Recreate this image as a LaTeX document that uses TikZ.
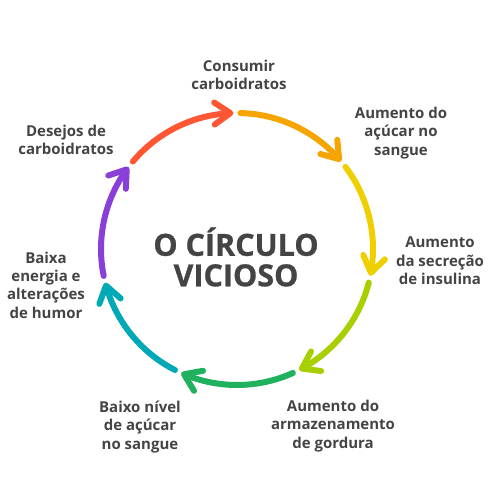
\documentclass[tikz,border=0pt]{standalone}
\usepackage{fontspec}
\setmainfont{Open Sans}
\newfontfamily\xbold{Open Sans}[BoldFeatures={FakeBold=0.8}]
\usetikzlibrary{arrows.meta,bending,calc}
\definecolor{txt}{HTML}{444444}
\definecolor{cred}{HTML}{FF5733}
\definecolor{corange}{HTML}{F6A500}
\definecolor{cyellow}{HTML}{EFCF00}
\definecolor{cyg}{HTML}{A8CF00}
\definecolor{cgreen}{HTML}{20B15F}
\definecolor{cteal}{HTML}{00A9B5}
\definecolor{cpurple}{HTML}{8A3FD8}
\begin{document}
\begin{tikzpicture}[x=1pt,y=1pt,
  lbl/.style={text=txt,font=\fontsize{15}{18.3}\selectfont\bfseries,align=center,inner sep=0pt},
  ttl/.style={text=txt,font=\fontsize{30.5}{30.5}\selectfont\xbold\bfseries,align=center,inner sep=0pt},
  cyc/.style={line width=6pt,line cap=round,-{Straight Barb[length=16pt,width=22pt,round]}}]
\useasboundingbox (0,0) rectangle (500,500);
\coordinate (c) at (237,251);
\def\R{136}
% labels
\node[lbl] (l0) at (239,425) {Consumir\\carboidratos};
\node[lbl] (l1) at (401,367) {Aumento do\\açúcar no\\sangue};
\node[lbl] (l2) at (440,239) {Aumento\\da secreção\\de insulina};
\node[lbl] (l3) at (333,74) {Aumento do\\armazenamento\\de gordura};
\node[lbl] (l4) at (140,73) {Baixo nível\\de açúcar\\no sangue};
\node[lbl] (l5) at (46,215) {Baixa\\energia e\\alterações\\de humor};
\node[lbl] (l6) at (66,360) {Desejos de\\carboidratos};
\node[ttl] (t) at (236,243) {O CÍRCULO\\VICIOSO};
% arcs
\foreach \k/\col in {0/cred,1/corange,2/cyellow,3/cyg,4/cgreen,5/cteal,6/cpurple}{
  \pgfmathsetmacro\sa{140-51.4286*\k}
  \pgfmathsetmacro\ea{\sa-48.5}
  \coordinate (s\k) at ($(c)+(\sa:\R)$);
  \draw[cyc,draw=\col] (s\k) arc[start angle=\sa,end angle=\ea,radius=\R];
}
\end{tikzpicture}
\end{document}
